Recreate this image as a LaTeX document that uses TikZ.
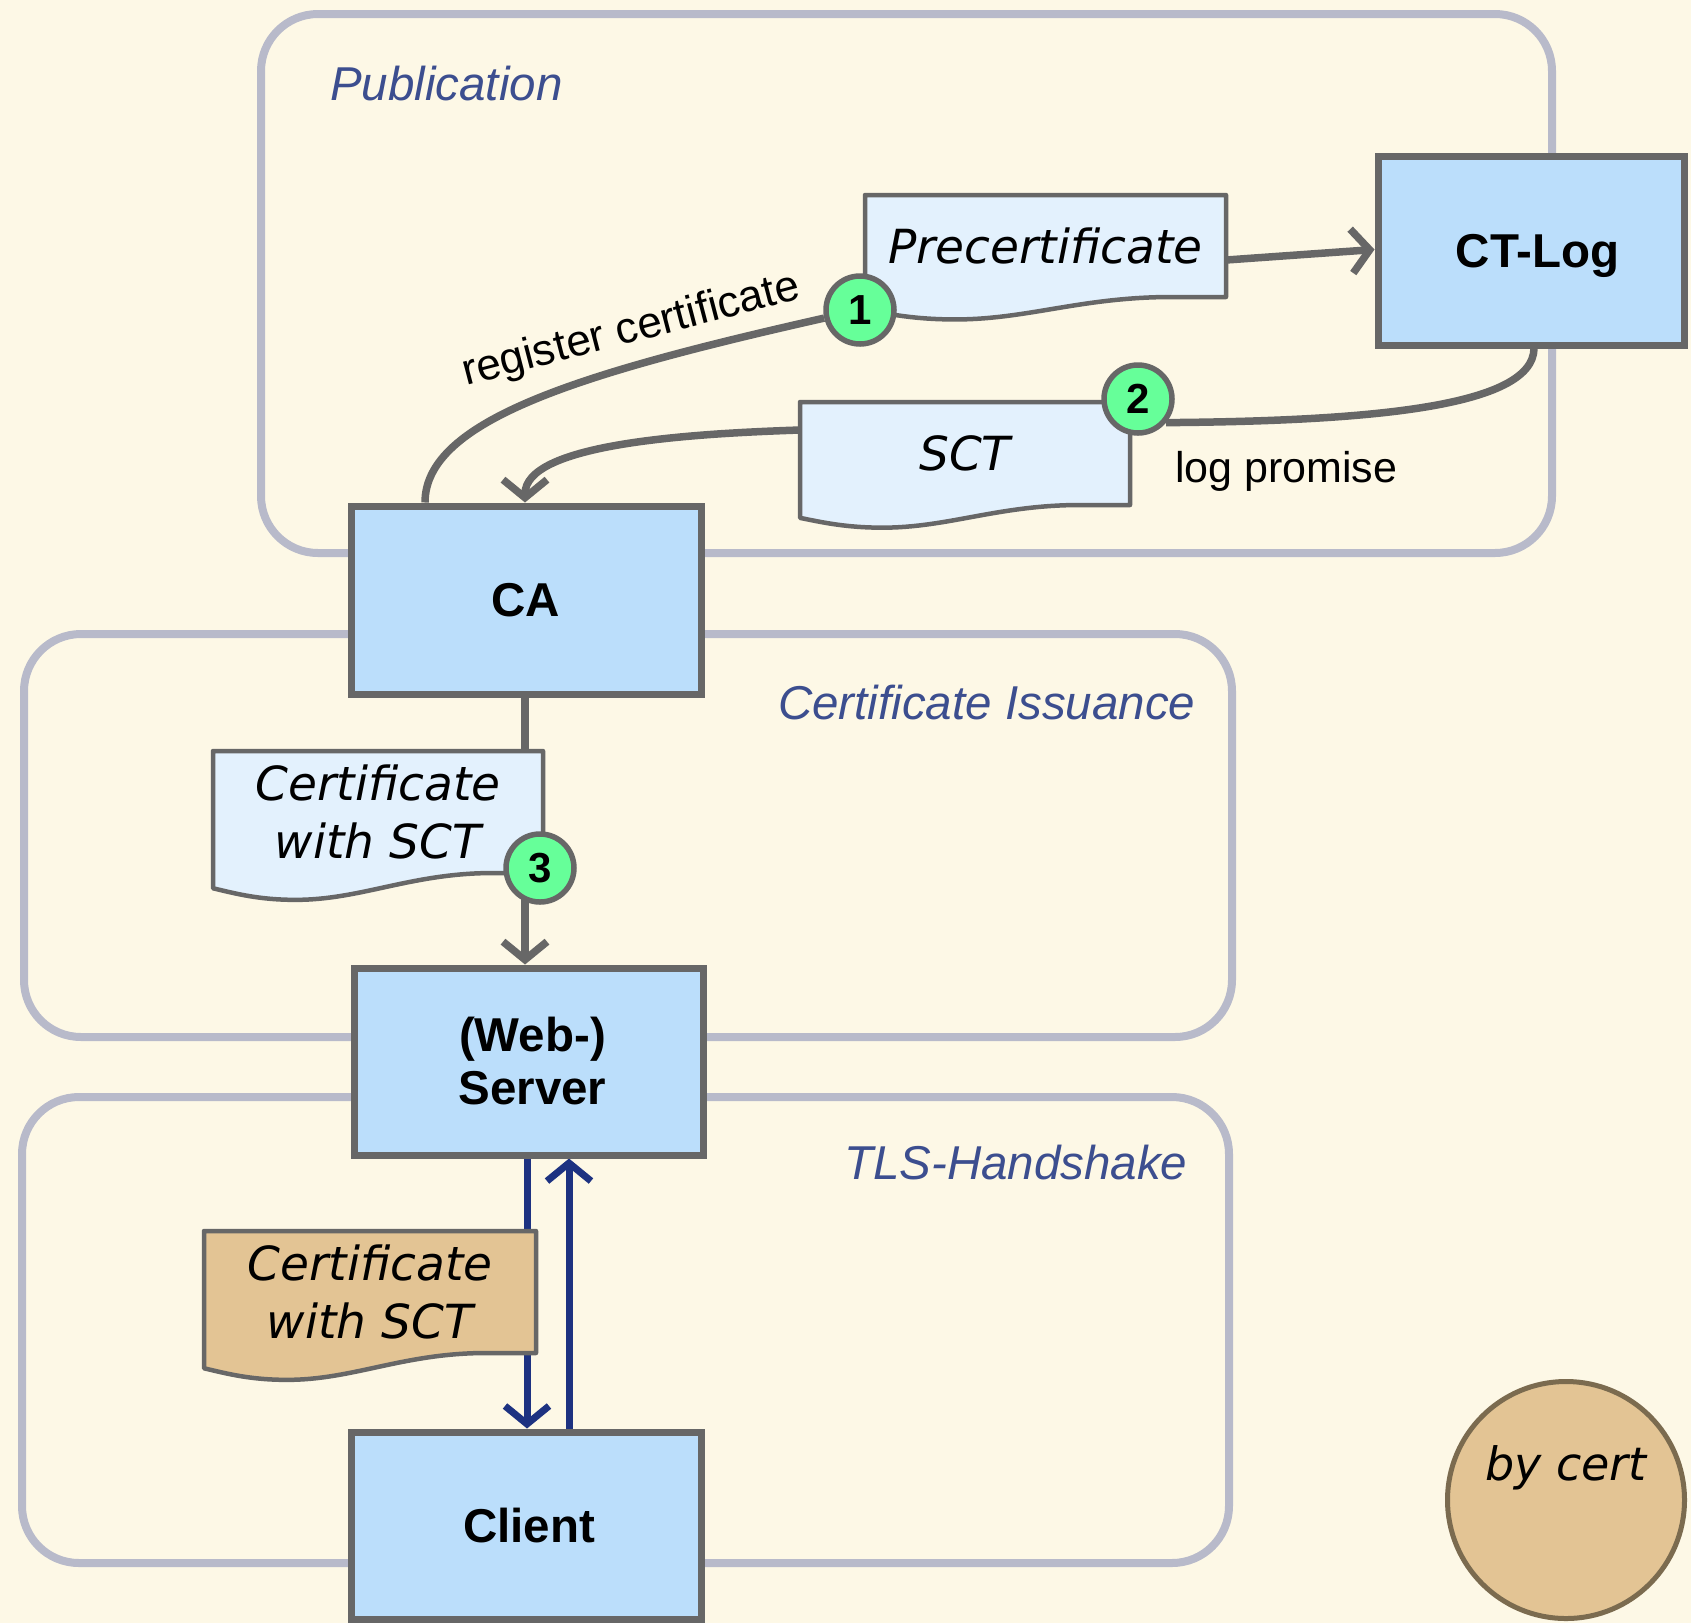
\documentclass[tikz,border=0pt]{standalone}
\usepackage{fontspec}
\setmainfont{Liberation Sans}
\newfontfamily\docfont{DejaVu Sans}
\usetikzlibrary{arrows.meta}

\definecolor{paper}{HTML}{FDF8E6}
\definecolor{framec}{HTML}{B8BACA}
\definecolor{boxfill}{HTML}{BBDEFB}
\definecolor{edgec}{HTML}{676767}
\definecolor{docfill}{HTML}{E3F1FD}
\definecolor{tanfill}{HTML}{E3C494}
\definecolor{mintc}{HTML}{66FF99}
\definecolor{navy}{HTML}{1D3281}
\definecolor{grouptext}{HTML}{3C4E8F}
\definecolor{rimc}{HTML}{7B6B4F}

\pgfdeclarelayer{paperlayer}
\pgfdeclarelayer{frames}
\pgfdeclarelayer{wires}
\pgfsetlayers{paperlayer,frames,wires,main}

% document symbol: rectangle with a wavy lower edge, plus a named text node
% args: name, left, top, width, height, fill, text
\newcommand\docsheet[7]{%
  \path[draw=edgec, fill=#6, line width=4.5pt, line join=round]
    (#2,-#3) -- ({#2+#4},-#3) -- ({#2+#4},{-#3-#5})
    -- ({#2+0.85*#4},{-#3-#5})
    .. controls ({#2+0.6*#4},{-#3-#5}) and ({#2+0.45*#4},{-#3-1.22*#5}) .. ({#2+0.25*#4},{-#3-1.22*#5})
    .. controls ({#2+0.14*#4},{-#3-1.22*#5}) and ({#2+0.07*#4},{-#3-1.17*#5}) .. (#2,{-#3-1.125*#5})
    -- cycle;
  \node[sheet, minimum width=#4pt, minimum height=#5pt] (#1) at ({#2+#4/2},{-#3-#5/2}) {#7};}

\begin{document}
\begin{tikzpicture}[x=1pt,y=1pt,
  zone/.style={draw=framec, line width=8pt, rounded corners=57pt},
  zonelabel/.style={text=grouptext, inner sep=0, anchor=base west,
    font=\itshape\fontsize{47.5}{57}\selectfont},
  actor/.style={rectangle, draw=edgec, fill=boxfill, line width=7pt, inner sep=0,
    align=center, font=\bfseries\fontsize{47.5}{53}\selectfont},
  sheet/.style={rectangle, inner sep=0, align=center,
    font=\docfont\itshape\fontsize{47}{58}\selectfont},
  stepmark/.style={circle, draw=edgec, fill=mintc, line width=5.5pt, minimum size=68pt,
    inner sep=0, font=\bfseries\fontsize{42}{42}\selectfont},
  wire/.style={draw=edgec, line width=7.5pt},
  flow/.style={draw=navy, line width=7pt},
  barbtip/.style={-{Straight Barb[length=18pt,width=44pt]}},
  note/.style={inner sep=0, font=\fontsize{43}{50}\selectfont}
]
\useasboundingbox (0,0) rectangle (1691,-1623);
\begin{pgfonlayer}{paperlayer}
  \fill[paper] (0,0) rectangle (1691,-1623);
\end{pgfonlayer}

% group frames
\begin{pgfonlayer}{frames}
  \draw[zone] (261,-14) rectangle (1552,-553);
  \draw[zone] (24,-634) rectangle (1232,-1037);
  \draw[zone] (22,-1097) rectangle (1229,-1563);
\end{pgfonlayer}
\node[zonelabel] (lpub) at (330,-100) {Publication};
\node[zonelabel] (liss) at (778,-719) {Certificate Issuance};
\node[zonelabel] (ltls) at (844,-1179) {TLS-Handshake};

% parties
\node[actor, minimum width=306pt, minimum height=189pt] (ctlog) at (1531,-250.5)
  {\hspace*{13pt}\raisebox{-17pt}[0pt][0pt]{CT-Log}};
\node[actor, minimum width=350pt, minimum height=188pt] (ca) at (526,-600) {CA};
\node[actor, minimum width=349pt, minimum height=187pt] (server) at (528.5,-1061.5)
  {\hspace*{8pt}(Web-)\\\hspace*{8pt}Server};
\node[actor, minimum width=350pt, minimum height=187pt] (client) at (526,-1525.5)
  {\hspace*{6pt}Client};

% exchanged documents
\docsheet{prec}{865}{195}{361}{102}{docfill}{Precertificate}
\docsheet{sct}{800}{402}{330}{103}{docfill}{SCT}
\docsheet{certdoc}{213}{751}{330}{122}{docfill}{Certificate\\with SCT}
\docsheet{tlscert}{204}{1231}{332}{122}{tanfill}{Certificate\\with SCT}

% step numbers
\node[stepmark] (c1) at (860,-310) {1};
\node[stepmark] (c2) at (1138,-399) {2};
\node[stepmark] (c3) at (540,-868) {3};

% edge labels
\node[note, anchor=base, rotate=14.6, font=\fontsize{44}{50}\selectfont] (lreg) at (634,-342) {register certificate};
\node[note, anchor=base west] (lprom) at (1175,-482) {log promise};

% stamp
\node[circle, minimum size=237pt, inner sep=0, fill=tanfill, draw=rimc, line width=5pt,
  text height=35pt, text depth=75pt, font=\docfont\itshape\fontsize{46}{50}\selectfont]
  (bycert) at (1566,-1500) {by cert};

% connectors
\coordinate (lane) at (525,0);
\coordinate (downlane) at (527,0);
\coordinate (uplane) at (569,0);
\begin{pgfonlayer}{wires}
  \draw[wire] ([xshift=-101pt]ca.north) .. controls (425,-420) and (581,-373) .. (c1);
  \draw[wire, barbtip] ([yshift=-14pt]prec.east) -- ([yshift=1pt]ctlog.west);
  \draw[wire] ([xshift=3pt]ctlog.south) .. controls (1533,-407) and (1370,-421) .. (c2.-40);
  \draw[wire, barbtip] ([yshift=23.5pt]sct.west) .. controls (680,-434) and (525,-445) .. (ca.north -| lane);
  \draw[wire] (ca.south -| lane) -- (certdoc.north -| lane);
  \draw[wire, barbtip] (c3 -| lane) -- (server.north -| lane);
  \draw[flow, barbtip] (server.south -| downlane) -- (client.north -| downlane);
  \draw[flow, barbtip] (client.north -| uplane) -- (server.south -| uplane);
\end{pgfonlayer}
\end{tikzpicture}
\end{document}
